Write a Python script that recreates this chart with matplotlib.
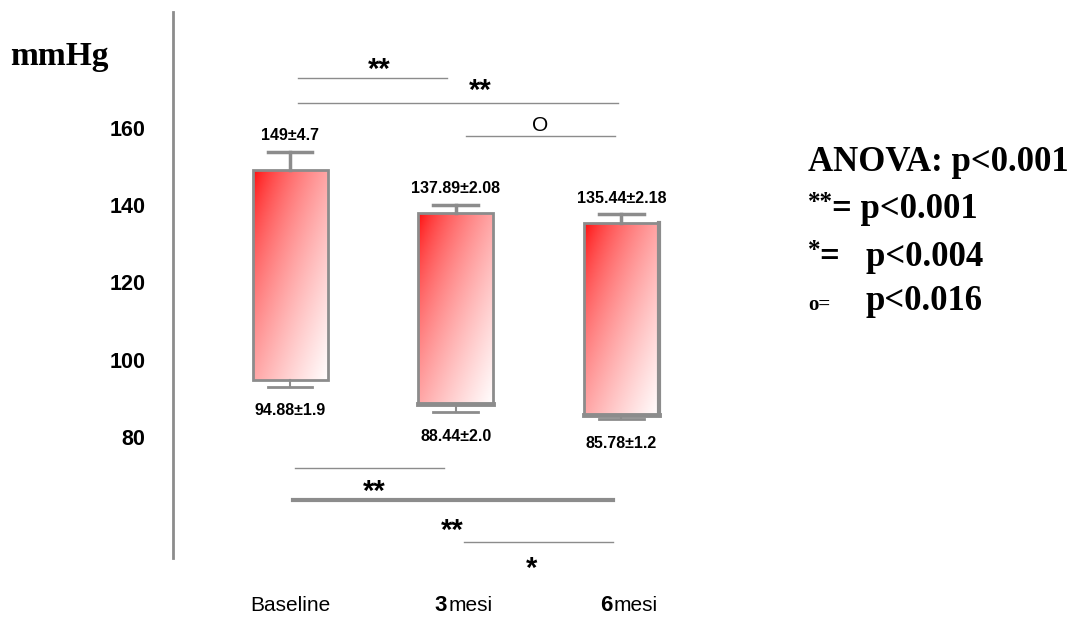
import numpy as np
import matplotlib.pyplot as plt
from matplotlib.patches import Rectangle

# data (mmHg, mean ± error)
groups = ["Baseline", "3", "6"]
top_mean = [149.0, 137.89, 135.44]
top_err = [4.7, 2.08, 2.18]
bot_mean = [94.88, 88.44, 85.78]
bot_err = [1.9, 2.0, 1.2]
top_labels = ["149±4.7", "137.89±2.08", "135.44±2.18"]
bot_labels = ["94.88±1.9", "88.44±2.0", "85.78±1.2"]
yticks = [80, 100, 120, 140, 160]

# significance bars: (x start, x end, y level, linewidth)
sig_lines = [(0.05, 0.95, 172.9, 1.0), (0.05, 1.98, 166.5, 1.0), (1.06, 1.96, 157.9, 1.0),
             (0.03, 0.93, 72.0, 1.0), (0.02, 1.95, 63.7, 3.0), (1.05, 1.95, 52.8, 1.0)]
sig_marks = [(0.54, 175.0, "**"), (1.15, 169.5, "**"), (1.51, 160.3, "O"),
             (0.51, 65.8, "**"), (0.98, 55.7, "**"), (1.46, 45.9, "*")]

narrow = ["Liberation Sans Narrow", "Liberation Sans", "DejaVu Sans"]
sans = ["Liberation Sans", "DejaVu Sans"]
serif = ["Liberation Serif", "DejaVu Serif"]
grey = "#8c8c8c"

fig = plt.figure(figsize=(10.78, 6.22), dpi=100)
ax = fig.add_axes([0.1605, 0.1029, 0.545, 0.8778])

w = 0.453
ny, nx = 200, 100
u = np.linspace(0, 1, nx)[None, :]
v = np.linspace(0, 1, ny)[:, None]  # 0 at top
t = np.clip((u + v) / 2, 0, 1) ** 0.62
grad = np.dstack([np.ones_like(t), t, t])

for i in range(len(groups)):
    x0 = i - w / 2
    lo, hi = bot_mean[i], top_mean[i]
    rect = Rectangle((x0, lo), w, hi - lo, facecolor="none", edgecolor=grey, lw=2, zorder=3)
    ax.add_patch(rect)
    im = ax.imshow(grad, extent=[x0, x0 + w, lo, hi], origin="upper", aspect="auto", zorder=2)
    im.set_clip_path(rect)
    # whiskers
    ax.plot([i, i], [hi, hi + top_err[i]], color=grey, lw=2.5, zorder=3)
    ax.plot([i - 0.135, i + 0.135], [hi + top_err[i]] * 2, color=grey, lw=2.5, zorder=3)
    ax.plot([i, i], [lo, lo - bot_err[i]], color=grey, lw=1.5, zorder=3)
    ax.plot([i - 0.135, i + 0.135], [lo - bot_err[i]] * 2, color=grey, lw=2, zorder=3)
    if i > 0:
        ax.plot([x0, x0 + w], [lo, lo], color=grey, lw=3.5, zorder=4)
    if i == 2:
        ax.plot([x0 + w, x0 + w], [lo, hi], color=grey, lw=3, zorder=4)
    ax.text(i, hi + top_err[i] + 2.3, top_labels[i], ha="center", va="bottom",
            fontsize=11.5, fontweight="bold", family=narrow)
    ax.text(i, lo - bot_err[i] - 4.3, bot_labels[i], ha="center", va="top",
            fontsize=11.5, fontweight="bold", family=narrow)

for xa, xb, yl, lw in sig_lines:
    ax.plot([xa, xb], [yl, yl], color=grey, lw=lw, zorder=3)
for xm, ym, s in sig_marks:
    if s == "O":
        ax.text(xm, ym + 0.3, s, ha="center", va="center", fontsize=15, family=sans, clip_on=False)
    else:
        ax.text(xm, ym, s, ha="center", va="center", fontsize=21, fontweight="bold",
                family=sans, clip_on=False)

ax.set_xlim(-0.707, 2.84)
ax.set_ylim(48.67, 190.03)
for s in ["top", "right", "bottom"]:
    ax.spines[s].set_visible(False)
ax.spines["left"].set_color(grey)
ax.spines["left"].set_linewidth(2)
ax.set_xticks([])
ax.set_yticks(yticks)
ax.set_yticklabels([str(y) for y in yticks], fontsize=15.5, fontweight="bold", family=sans)
ax.tick_params(axis="y", length=0, pad=20)

# category labels
ax.text(0, 36.5, groups[0], ha="center", va="center", fontsize=15, family=narrow, clip_on=False)
for i in (1, 2):
    ax.text(i - 0.055, 36.5, groups[i], ha="right", va="center", fontsize=16,
            fontweight="bold", family=narrow, clip_on=False)
    ax.text(i - 0.045, 36.5, "mesi", ha="left", va="center", fontsize=15,
            family=narrow, clip_on=False)

fig.text(10 / 1078, 1 - 57 / 622, "mmHg", ha="left", va="center", fontsize=24,
         fontweight="bold", family=serif)

fig.text(808 / 1078, 1 - 163 / 622, "ANOVA: p<0.001", ha="left", va="center", fontsize=25,
         fontweight="bold", family=serif)
fig.text(808 / 1078, 1 - 203 / 622, "**", ha="left", va="center", fontsize=18,
         fontweight="bold", family=serif)
fig.text(832 / 1078, 1 - 210 / 622, "= p<0.001", ha="left", va="center", fontsize=25,
         fontweight="bold", family=serif)
fig.text(808 / 1078, 1 - 250 / 622, "*", ha="left", va="center", fontsize=18,
         fontweight="bold", family=serif)
fig.text(820 / 1078, 1 - 257 / 622, "=   p<0.004", ha="left", va="center", fontsize=25,
         fontweight="bold", family=serif)
fig.text(808 / 1078, 1 - 305 / 622, "o=", ha="left", va="center", fontsize=15,
         fontweight="bold", family=serif)
fig.text(866 / 1078, 1 - 302 / 622, "p<0.016", ha="left", va="center", fontsize=25,
         fontweight="bold", family=serif)

fig.savefig("out.png", dpi=100)
